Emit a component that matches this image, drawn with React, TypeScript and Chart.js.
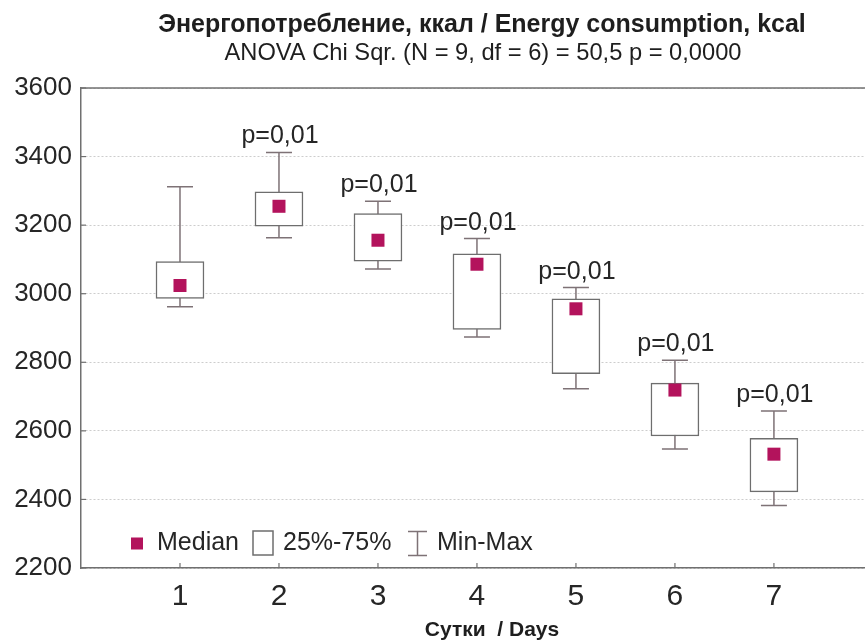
import React, { useEffect, useRef } from "react";
import { Chart, registerables } from "chart.js";

Chart.register(...registerables);

// ---- data ----
const days = [1, 2, 3, 4, 5, 6, 7];
const dayLabels = ["1", "2", "3", "4", "5", "6", "7"];
const medianValues = [3024, 3255, 3156, 3086, 2956, 2719, 2532];
const q1Values = [2986, 3197, 3095, 2896, 2767, 2585, 2422];
const q3Values = [3094, 3297, 3234, 3116, 2985, 2739, 2578];
const minValues = [2962, 3163, 3072, 2874, 2723, 2547, 2382];
const maxValues = [3312, 3412, 3270, 3161, 3018, 2806, 2658];
const pLabels = ["", "p=0,01", "p=0,01", "p=0,01", "p=0,01", "p=0,01", "p=0,01"];
const yTicks = [2200, 2400, 2600, 2800, 3000, 3200, 3400, 3600];
const legendLabels = ["Median", "25%-75%", "Min-Max"];
const titleText = "Энергопотребление, ккал / Energy consumption, kcal";
const subtitleText = "ANOVA Chi Sqr. (N = 9, df = 6) = 50,5 p = 0,0000";
const xAxisTitle = "Сутки  / Days";

// ---- style ----
const FONT = "'Liberation Sans', Arial, sans-serif";
const TEXT = "#262626";
const AXIS = "#707070";
const GRID = "#cdcdcd";
const BOX = "#6e6e6e";
const WHISKER = "#7e7276";
const MEDIAN = "#b3135c";

const decorPlugin = {
  id: "decor",
  beforeDatasetsDraw(chart: any) {
    const { ctx, scales } = chart;
    const xs = scales.x;
    const ys = scales.y;
    ctx.save();
    ctx.strokeStyle = WHISKER;
    ctx.lineWidth = 1.5;
    days.forEach((d, i) => {
      const x = xs.getPixelForValue(d);
      const yMax = ys.getPixelForValue(maxValues[i]);
      const yMin = ys.getPixelForValue(minValues[i]);
      const cap = 13;
      ctx.beginPath();
      ctx.moveTo(x, yMax);
      ctx.lineTo(x, yMin);
      ctx.moveTo(x - cap, yMax);
      ctx.lineTo(x + cap, yMax);
      ctx.moveTo(x - cap, yMin);
      ctx.lineTo(x + cap, yMin);
      ctx.stroke();
    });
    ctx.restore();
  },
  afterDraw(chart: any) {
    const { ctx, scales, chartArea } = chart;
    const xs = scales.x;
    const ys = scales.y;
    ctx.save();
    // top border
    ctx.strokeStyle = AXIS;
    ctx.lineWidth = 1.5;
    ctx.beginPath();
    ctx.moveTo(chartArea.left, chartArea.top);
    ctx.lineTo(chartArea.right, chartArea.top);
    ctx.stroke();
    // inward ticks
    ctx.lineWidth = 1.2;
    days.forEach((d) => {
      const x = xs.getPixelForValue(d);
      ctx.beginPath();
      ctx.moveTo(x, chartArea.bottom);
      ctx.lineTo(x, chartArea.bottom - 5);
      ctx.stroke();
    });
    yTicks.forEach((v) => {
      const y = ys.getPixelForValue(v);
      ctx.beginPath();
      ctx.moveTo(chartArea.left, y);
      ctx.lineTo(chartArea.left + 5, y);
      ctx.stroke();
    });

    // p labels
    ctx.fillStyle = TEXT;
    ctx.font = `25px ${FONT}`;
    ctx.textAlign = "center";
    ctx.textBaseline = "alphabetic";
    days.forEach((d, i) => {
      if (!pLabels[i]) return;
      const x = xs.getPixelForValue(d);
      const y = ys.getPixelForValue(maxValues[i]);
      ctx.fillText(pLabels[i], x + 1, y - 9);
    });

    // legend
    const lx = chartArea.left;
    const ly = chartArea.bottom - 24.5;
    ctx.fillStyle = MEDIAN;
    ctx.fillRect(lx + 50, ly - 6, 12, 12);
    ctx.fillStyle = TEXT;
    ctx.font = `25px ${FONT}`;
    ctx.textAlign = "left";
    ctx.textBaseline = "middle";
    ctx.fillText(legendLabels[0], lx + 76, ly);
    ctx.strokeStyle = BOX;
    ctx.lineWidth = 1.5;
    ctx.strokeRect(lx + 172, ly - 12.5, 20, 24);
    ctx.fillText(legendLabels[1], lx + 202, ly);
    ctx.strokeStyle = WHISKER;
    ctx.beginPath();
    const wx = lx + 336.5;
    ctx.moveTo(wx, ly - 12);
    ctx.lineTo(wx, ly + 12);
    ctx.moveTo(wx - 9.5, ly - 12);
    ctx.lineTo(wx + 9.5, ly - 12);
    ctx.moveTo(wx - 9.5, ly + 12);
    ctx.lineTo(wx + 9.5, ly + 12);
    ctx.stroke();
    ctx.fillText(legendLabels[2], lx + 356, ly);

    // titles
    ctx.textAlign = "center";
    ctx.textBaseline = "middle";
    ctx.fillStyle = "#1e1e1e";
    ctx.font = `bold 25px ${FONT}`;
    ctx.fillText(titleText, 482, 25);
    ctx.font = `23.7px ${FONT}`;
    ctx.fillText(subtitleText, 483, 53);
    ctx.font = `bold 21px ${FONT}`;
    ctx.fillText(xAxisTitle, 492, 630);
    ctx.restore();
  },
};

export default function App() {
  const ref = useRef<HTMLCanvasElement | null>(null);
  useEffect(() => {
    if (!ref.current) return;
    const chart = new Chart(ref.current, {
      type: "bar",
      data: {
        datasets: [
          {
            type: "scatter",
            label: "Median",
            data: days.map((d, i) => ({ x: d, y: medianValues[i] })),
            pointStyle: "rect",
            pointRadius: 9.2,
            pointHoverRadius: 9.2,
            backgroundColor: MEDIAN,
            borderColor: MEDIAN,
            borderWidth: 0,
            order: 0,
          } as any,
          {
            type: "bar",
            label: "25%-75%",
            data: days.map((d, i) => ({ x: d, y: [q1Values[i], q3Values[i]] })),
            backgroundColor: "#ffffff",
            borderColor: BOX,
            borderWidth: 1.5,
            borderSkipped: false,
            barThickness: 48,
            order: 1,
          } as any,
        ],
      },
      options: {
        animation: false,
        responsive: false,
        maintainAspectRatio: false,
        layout: { autoPadding: false, padding: { top: 88, left: 0, right: 0, bottom: 0 } },
        plugins: {
          legend: { display: false },
          tooltip: { enabled: false },
          title: { display: false },
        },
        scales: {
          x: {
            type: "linear",
            offset: false,
            min: 0,
            max: 7.92,
            afterBuildTicks: (s: any) => {
              s.ticks = days.map((v) => ({ value: v }));
            },
            afterFit: (s: any) => {
              s.height = 72;
            },
            ticks: {
              autoSkip: false,
              maxRotation: 0,
              padding: 11,
              color: TEXT,
              font: { family: FONT, size: 30 },
              callback: (v: any) => dayLabels[days.indexOf(Number(v))] ?? "",
            },
            grid: { display: false, drawTicks: false, offset: false },
            border: { display: true, color: AXIS, width: 1.5 },
          },
          y: {
            type: "linear",
            min: 2200,
            max: 3600,
            afterBuildTicks: (s: any) => {
              s.ticks = yTicks.map((v) => ({ value: v }));
            },
            afterFit: (s: any) => {
              s.width = 81;
            },
            ticks: {
              padding: 9,
              color: TEXT,
              font: { family: FONT, size: 26 },
              callback: (v: any) => String(v),
            },
            grid: { color: GRID, lineWidth: 1, drawTicks: false },
            border: { display: true, color: AXIS, width: 1.5, dash: [2, 2] },
          },
        },
      },
      plugins: [decorPlugin],
    } as any);
    return () => chart.destroy();
  }, []);
  return (
    <div style={{ position: "absolute", left: 0, top: 0, width: 865, height: 640, background: "#fff" }}>
      <canvas ref={ref} width={865} height={640} style={{ display: "block" }} />
    </div>
  );
}
